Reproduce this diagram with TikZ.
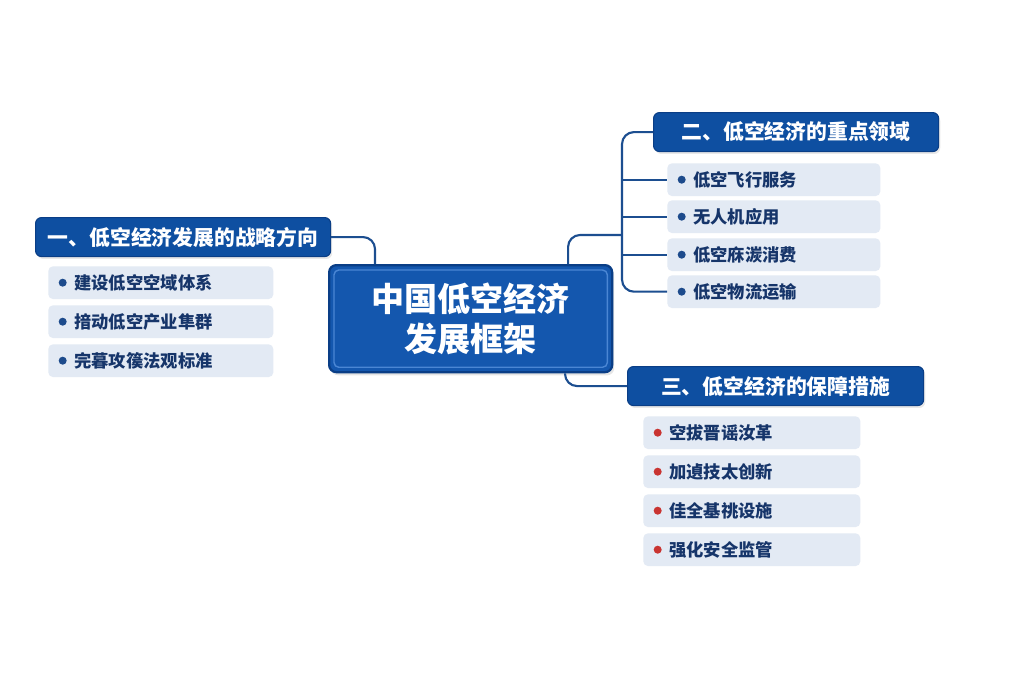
\documentclass[tikz,border=0pt]{standalone}
\usepackage{fontspec}
\usepackage{xcolor}
\usetikzlibrary{calc,shadows}
\newfontfamily\cjkfont{Noto Sans CJK SC}
\definecolor{head-blue}{HTML}{0E4FA1}
\definecolor{head-edge}{HTML}{0A3E86}
\definecolor{core-blue}{HTML}{1457AE}
\definecolor{core-line}{HTML}{4A86D4}
\definecolor{item-bg}{HTML}{E3EAF4}
\definecolor{item-text}{HTML}{16356A}
\definecolor{link-blue}{HTML}{1C4E90}
\definecolor{dot-blue}{HTML}{1D4B8C}
\definecolor{dot-red}{HTML}{C93431}

\begin{document}
\begin{tikzpicture}[x=0.025cm, y=-0.025cm,
    every node/.style={font=\cjkfont},
    headbox/.style={draw=head-edge, line width=0.8pt, fill=head-blue,
      rounded corners=0.15cm, anchor=north west, minimum width=#1,
      minimum height=0.975cm, text=white,
      font=\cjkfont\bfseries\fontsize{14.8}{17}\selectfont,
      drop shadow={opacity=0.18, shadow xshift=0.04cm, shadow yshift=-0.06cm}},
    itembox/.style 2 args={fill=item-bg, rounded corners=0.12cm,
      anchor=north west, inner xsep=0.65cm, text width=#1, align=left,
      minimum height=0.82cm, text=item-text,
      font=\cjkfont\bfseries\fontsize{12.3}{14}\selectfont,
      path picture={\fill[#2] ($(path picture bounding box.west)+(0.36cm,0)$)
        circle (0.1cm);}},
    corebox/.style={draw=head-edge, line width=1.6pt, fill=core-blue,
      rounded corners=0.18cm, anchor=north west, minimum width=7.075cm,
      minimum height=2.675cm, align=center, text=white,
      font=\cjkfont\bfseries\fontsize{23.5}{28.5}\selectfont,
      drop shadow={opacity=0.2, shadow xshift=0.05cm, shadow yshift=-0.08cm}},
    conn/.style={draw=link-blue, line width=1.5pt, rounded corners=0.3cm}]
  \fill[white] (0,0) rectangle (1024,683);
  \useasboundingbox (0,0) rectangle (1024,683);

  % centre
  \node[corebox] (ctr) at (328,264) {中国低空经济\\发展框架};
  \draw[core-line, line width=1pt, rounded corners=0.12cm]
    ($(ctr.north west)+(0.15cm,-0.15cm)$) rectangle ($(ctr.south east)+(-0.15cm,0.15cm)$);

  % left branch
  \node[headbox=7.375cm] (lhead) at (35,217) {一、低空经济发展的战略方向};
  \node[itembox={4.325cm}{dot-blue}] (l1) at (48,266) {建设低空空域体系};
  \node[itembox={4.325cm}{dot-blue}] (l2) at (48,305) {揞动低空产业隼群};
  \node[itembox={4.325cm}{dot-blue}] (l3) at (48,344) {完暮攻篌法观标准};
  \draw[conn] (lhead.east) -| ($(ctr.north west)+(1.175cm,0)$);

  % right top branch
  \node[headbox=7.125cm] (rhead) at (653,112) {二、低空经济的重点领域};
  \node[itembox={4.025cm}{dot-blue}] (r1) at (667,163) {低空飞行服务};
  \node[itembox={4.025cm}{dot-blue}] (r2) at (667,200) {无人机应用};
  \node[itembox={4.025cm}{dot-blue}] (r3) at (667,238) {低空庥湠消费};
  \node[itembox={4.025cm}{dot-blue}] (r4) at (667,275) {低空物流运输};
  \coordinate (trunk) at (622,235);
  \draw[conn] (rhead.west) -| (trunk) |- (r4.west);
  \draw[conn] (r1.west -| trunk) -- (r1.west);
  \draw[conn] (r2.west -| trunk) -- (r2.west);
  \draw[conn] (r3.west -| trunk) -- (r3.west);
  \draw[conn] ($(ctr.north west)+(6cm,0)$) |- (trunk);

  % right bottom branch
  \node[headbox=7.4cm] (bhead) at (627,366) {三、低空经济的保障措施};
  \node[itembox={4.125cm}{dot-red}] (b1) at (643,416) {空拔晋谣汝革};
  \node[itembox={4.125cm}{dot-red}] (b2) at (643,455) {加遉技太创新};
  \node[itembox={4.125cm}{dot-red}] (b3) at (643,494) {佳全基祧设施};
  \node[itembox={4.125cm}{dot-red}] (b4) at (643,533) {强化安全监管};
  \draw[conn] ($(ctr.south west)+(5.925cm,0)$) |- (bhead.west);
\end{tikzpicture}
\end{document}
